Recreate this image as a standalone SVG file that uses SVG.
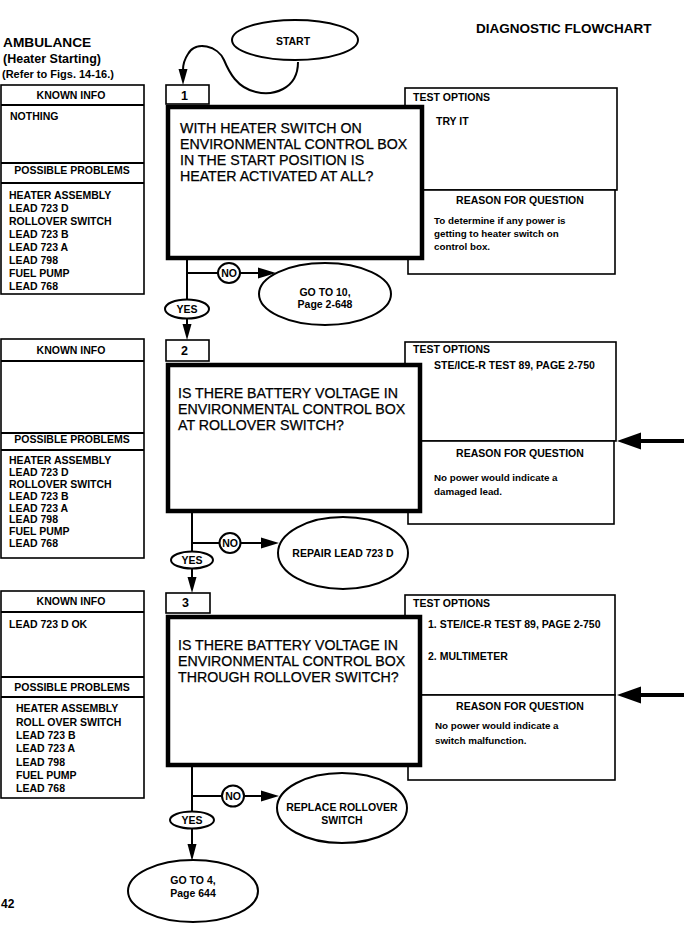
<svg xmlns="http://www.w3.org/2000/svg" width="684" height="934" viewBox="0 0 684 934">
<style>
text{font-family:"Liberation Sans",Arial,sans-serif;fill:#000}
.b{font-weight:bold}
.h{font-weight:bold;font-size:10.5px}
.c{text-anchor:middle}
.q{font-size:14.2px;stroke:#000;stroke-width:0.25}
.s{font-weight:bold;font-size:9.8px}
.box{fill:#fff;stroke:#000;stroke-width:1.6}
.qb{fill:#fff;stroke:#000;stroke-width:4.5}
.el{fill:#fff;stroke:#000;stroke-width:2}
.ln{fill:none;stroke:#000;stroke-width:2}
.thick{fill:none;stroke:#000;stroke-width:4}
</style>

<g id="header">
<text class="b" x="3" y="47" font-size="13.7">AMBULANCE</text>
<text class="b" x="3" y="63" font-size="12.5">(Heater Starting)</text>
<text class="b" x="2" y="78" font-size="11">(Refer to Figs. 14-16.)</text>
<text class="b" x="476" y="33" font-size="13.5">DIAGNOSTIC FLOWCHART</text>
<text class="b" x="1" y="908" font-size="12">42</text>
</g>

<g id="connectors">
<path class="ln" d="M298,62 C298,90 272,96 256,92 C237,88 229,72 224,60 C218,46 196,40 188,54 C184,60 183,64 183,70"/>
<polygon points="178.5,69 187.5,69 183,85"/>
<line class="ln" x1="187" y1="260" x2="187" y2="300"/>
<line class="ln" x1="187" y1="273" x2="218" y2="273"/>
<line class="ln" x1="240" y1="273" x2="262" y2="273"/>
<polygon points="258,267.5 276,273 258,278.5"/>
<line class="ln" x1="187" y1="318.5" x2="187" y2="326"/>
<polygon points="182.5,324 191.5,324 187,340"/>
<line class="ln" x1="192" y1="513" x2="192" y2="552"/>
<line class="ln" x1="192" y1="543" x2="220" y2="543"/>
<line class="ln" x1="240" y1="543" x2="265" y2="543"/>
<polygon points="261,537.5 279,543 261,548.5"/>
<line class="ln" x1="192" y1="568.5" x2="192" y2="580"/>
<polygon points="187.5,577 196.5,577 192,593"/>
<line class="ln" x1="192" y1="767" x2="192" y2="812"/>
<line class="ln" x1="192" y1="796" x2="222" y2="796"/>
<line class="ln" x1="244" y1="796" x2="265" y2="796"/>
<polygon points="261,790.5 279,796 261,801.5"/>
<line class="ln" x1="192" y1="828.5" x2="192" y2="846"/>
<polygon points="187.5,844 196.5,844 192,861"/>
<line class="thick" x1="636" y1="441" x2="684" y2="441"/>
<polygon points="617,441 641,432.5 641,449.5"/>
<line class="thick" x1="636" y1="695" x2="684" y2="695"/>
<polygon points="617,695 641,686.5 641,703.5"/>
</g>

<g id="start">
<ellipse class="el" cx="295" cy="40" rx="63" ry="20"/>
<text class="h c" x="293" y="45" font-size="11">START</text>
</g>

<g id="known1">
<rect class="box" x="1" y="85" width="143" height="209"/>
<line class="ln" x1="1" y1="105" x2="144" y2="105" stroke-width="1.6"/>
<line class="ln" x1="1" y1="163" x2="144" y2="163" stroke-width="1.6"/>
<line class="ln" x1="1" y1="183" x2="144" y2="183" stroke-width="1.6"/>
<text class="h c" x="71" y="99">KNOWN INFO</text>
<text class="h" x="10" y="120">NOTHING</text>
<text class="h c" x="72" y="174">POSSIBLE PROBLEMS</text>
<text class="h" x="9" y="199">HEATER ASSEMBLY</text>
<text class="h" x="9" y="212">LEAD 723 D</text>
<text class="h" x="9" y="225">ROLLOVER SWITCH</text>
<text class="h" x="9" y="238">LEAD 723 B</text>
<text class="h" x="9" y="251">LEAD 723 A</text>
<text class="h" x="9" y="264">LEAD 798</text>
<text class="h" x="9" y="277">FUEL PUMP</text>
<text class="h" x="9" y="290">LEAD 768</text>
</g>
<g id="test1">
<rect class="box" x="405" y="88" width="212" height="102" stroke-width="2.2"/>
<text class="h" x="413" y="101">TEST OPTIONS</text>
<text class="h" x="436" y="125">TRY IT</text>
</g>
<g id="reason1">
<rect class="box" x="408" y="190" width="207" height="84"/>
<text class="h c" x="520" y="204">REASON FOR QUESTION</text>
<text class="s" x="434" y="224">To determine if any  power is</text>
<text class="s" x="434" y="237">getting to heater switch on</text>
<text class="s" x="434" y="250">control box.</text>
</g>
<g id="step1">
<rect class="box" x="166" y="85" width="43" height="19" stroke-width="2"/>
<text class="b" x="181" y="100" font-size="12.5">1</text>
<rect class="qb" x="168" y="107" width="254" height="151"/>
<text class="q" x="180" y="133">WITH HEATER SWITCH ON</text>
<text class="q" x="180" y="149">ENVIRONMENTAL CONTROL BOX</text>
<text class="q" x="180" y="165">IN THE START POSITION IS</text>
<text class="q" x="180" y="181">HEATER ACTIVATED AT ALL?</text>
</g>
<g id="no1">
<ellipse class="el" cx="229" cy="273" rx="11" ry="10"/>
<text class="h c" x="229" y="277">NO</text>
</g>
<g id="goto10">
<ellipse class="el" cx="325" cy="294" rx="66" ry="31"/>
<text class="h c" x="325" y="296">GO TO 10,</text>
<text class="h c" x="325" y="308">Page 2-648</text>
</g>
<g id="yes1">
<ellipse class="el" cx="187" cy="309" rx="22" ry="9.5"/>
<text class="h c" x="187" y="313">YES</text>
</g>

<g id="known2">
<rect class="box" x="1" y="339" width="143" height="219"/>
<line class="ln" x1="1" y1="361" x2="144" y2="361" stroke-width="1.6"/>
<line class="ln" x1="1" y1="433" x2="144" y2="433" stroke-width="1.6"/>
<line class="ln" x1="1" y1="450" x2="144" y2="450" stroke-width="1.6"/>
<text class="h c" x="71" y="354">KNOWN INFO</text>
<text class="h c" x="72" y="443">POSSIBLE PROBLEMS</text>
<text class="h" x="9" y="464">HEATER ASSEMBLY</text>
<text class="h" x="9" y="476">LEAD 723 D</text>
<text class="h" x="9" y="488">ROLLOVER SWITCH</text>
<text class="h" x="9" y="500">LEAD 723 B</text>
<text class="h" x="9" y="512">LEAD 723 A</text>
<text class="h" x="9" y="523">LEAD 798</text>
<text class="h" x="9" y="535">FUEL PUMP</text>
<text class="h" x="9" y="547">LEAD 768</text>
</g>
<g id="test2">
<rect class="box" x="405" y="342" width="211" height="99" stroke-width="2.2"/>
<text class="h" x="413" y="353">TEST OPTIONS</text>
<text class="h" x="434" y="369" font-size="10.3">STE/ICE-R TEST 89, PAGE 2-750</text>
</g>
<g id="reason2">
<rect class="box" x="408" y="441" width="206" height="83"/>
<text class="h c" x="520" y="457">REASON FOR QUESTION</text>
<text class="s" x="434" y="481">No power would indicate a</text>
<text class="s" x="434" y="495">damaged lead.</text>
</g>
<g id="step2">
<rect class="box" x="166" y="340" width="43" height="21" stroke-width="2"/>
<text class="b" x="181" y="355" font-size="12.5">2</text>
<rect class="qb" x="168" y="365" width="252" height="146"/>
<text class="q" x="178" y="398">IS THERE BATTERY VOLTAGE IN</text>
<text class="q" x="178" y="414">ENVIRONMENTAL CONTROL BOX</text>
<text class="q" x="178" y="430">AT ROLLOVER SWITCH?</text>
</g>
<g id="no2">
<ellipse class="el" cx="230" cy="543" rx="10.5" ry="10"/>
<text class="h c" x="230" y="547">NO</text>
</g>
<g id="repair">
<ellipse class="el" cx="343" cy="553" rx="65" ry="36"/>
<text class="h c" x="343" y="557" font-size="10.3">REPAIR LEAD 723 D</text>
</g>
<g id="yes2">
<ellipse class="el" cx="192" cy="560" rx="21" ry="8.5"/>
<text class="h c" x="192" y="564">YES</text>
</g>

<g id="known3">
<rect class="box" x="1" y="591" width="143" height="207"/>
<line class="ln" x1="1" y1="612" x2="144" y2="612" stroke-width="1.6"/>
<line class="ln" x1="1" y1="677" x2="144" y2="677" stroke-width="1.6"/>
<line class="ln" x1="1" y1="697" x2="144" y2="697" stroke-width="1.6"/>
<text class="h c" x="71" y="605">KNOWN INFO</text>
<text class="h" x="9" y="628">LEAD 723 D OK</text>
<text class="h c" x="72" y="691">POSSIBLE PROBLEMS</text>
<text class="h" x="16" y="712">HEATER ASSEMBLY</text>
<text class="h" x="16" y="725.5">ROLL OVER SWITCH</text>
<text class="h" x="16" y="739">LEAD 723 B</text>
<text class="h" x="16" y="752">LEAD 723 A</text>
<text class="h" x="16" y="765.5">LEAD 798</text>
<text class="h" x="16" y="779">FUEL PUMP</text>
<text class="h" x="16" y="792">LEAD 768</text>
</g>
<g id="test3">
<rect class="box" x="405" y="595" width="210" height="100" stroke-width="2.2"/>
<text class="h" x="413" y="607">TEST OPTIONS</text>
<text class="h" x="428" y="628" font-size="10.3">1. STE/ICE-R TEST 89, PAGE 2-750</text>
<text class="h" x="428" y="660" font-size="10.3">2. MULTIMETER</text>
</g>
<g id="reason3">
<rect class="box" x="408" y="695" width="207" height="85"/>
<text class="h c" x="520" y="710">REASON FOR QUESTION</text>
<text class="s" x="435" y="729">No power would indicate a</text>
<text class="s" x="435" y="744">switch malfunction.</text>
</g>
<g id="step3">
<rect class="box" x="166" y="593" width="44" height="20" stroke-width="2"/>
<text class="b" x="182" y="607" font-size="12.5">3</text>
<rect class="qb" x="168" y="617" width="252" height="148"/>
<text class="q" x="178" y="650">IS THERE BATTERY VOLTAGE IN</text>
<text class="q" x="178" y="666">ENVIRONMENTAL CONTROL BOX</text>
<text class="q" x="178" y="682">THROUGH ROLLOVER SWITCH?</text>
</g>
<g id="no3">
<ellipse class="el" cx="233" cy="796" rx="11" ry="10.5"/>
<text class="h c" x="233" y="800">NO</text>
</g>
<g id="replace">
<ellipse class="el" cx="342" cy="808" rx="65" ry="35"/>
<text class="h c" x="342" y="811">REPLACE ROLLOVER</text>
<text class="h c" x="342" y="824">SWITCH</text>
</g>
<g id="yes3">
<ellipse class="el" cx="192" cy="820" rx="22" ry="8.5"/>
<text class="h c" x="192" y="824">YES</text>
</g>
<g id="goto4">
<ellipse class="el" cx="193" cy="891" rx="65" ry="31"/>
<text class="h c" x="193" y="884">GO TO 4,</text>
<text class="h c" x="193" y="897">Page 644</text>
</g>
</svg>
